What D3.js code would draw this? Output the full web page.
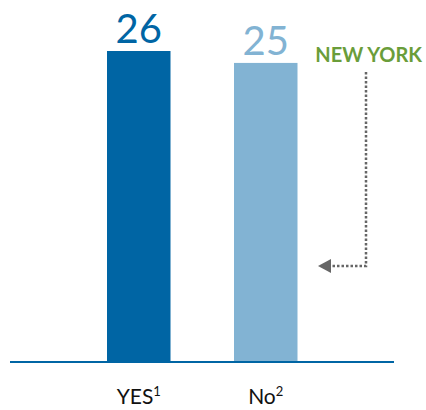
<!DOCTYPE html>
<html>
<head>
<meta charset="utf-8">
<script src="https://cdn.jsdelivr.net/npm/d3@7"></script>
<style>
  html, body { margin: 0; padding: 0; background: #fff; }
  svg { display: block; font-family: Lato, "Open Sans", sans-serif; }
</style>
</head>
<body>
<div id="chart"></div>
<script>
const categories = ["YES", "No"];
const notes = ["1", "2"];
const values = [26, 25];
const colors = ["#0065a4", "#82b3d3"];

const width = 426, height = 410;
const baseY = 361;

const svg = d3.select("#chart").append("svg")
  .attr("width", width)
  .attr("height", height);

const x = d3.scaleBand().domain(categories).range([43.5, 361]).paddingInner(0.5).paddingOuter(0.5);
const y = d3.scaleLinear().domain([0, d3.max(values)]).range([baseY, 51]);

// bars
svg.selectAll("rect.bar").data(values).enter().append("rect")
  .attr("class", "bar")
  .attr("x", (d, i) => x(categories[i]))
  .attr("y", d => y(d))
  .attr("width", x.bandwidth())
  .attr("height", d => baseY - y(d))
  .attr("fill", (d, i) => colors[i]);

// value labels
svg.selectAll("text.val").data(values).enter().append("text")
  .attr("class", "val")
  .attr("x", (d, i) => x(categories[i]) + x.bandwidth() / 2)
  .attr("y", d => y(d) - 8)
  .attr("text-anchor", "middle")
  .attr("font-size", 40)
  .attr("fill", (d, i) => colors[i])
  .text(d => d);

// baseline
svg.append("line")
  .attr("x1", 10).attr("x2", 394)
  .attr("y1", baseY + 1).attr("y2", baseY + 1)
  .attr("stroke", "#0065a4")
  .attr("stroke-width", 2);

// category labels
const cat = svg.selectAll("text.cat").data(categories).enter().append("text")
  .attr("class", "cat")
  .attr("x", d => x(d) + x.bandwidth() / 2)
  .attr("y", 404)
  .attr("text-anchor", "middle")
  .attr("font-size", 21)
  .attr("fill", "#111");
cat.append("tspan").text(d => d);
cat.append("tspan")
  .attr("font-size", 13)
  .attr("dy", -8)
  .text((d, i) => notes[i]);

// annotation
svg.append("text")
  .attr("x", 422)
  .attr("y", 62)
  .attr("text-anchor", "end")
  .attr("font-size", 20)
  .attr("font-weight", "bold")
  .attr("fill", "#6a9d3a")
  .text("NEW YORK");

svg.append("path")
  .attr("d", "M366,72 V266 H332")
  .attr("fill", "none")
  .attr("stroke", "#666")
  .attr("stroke-width", 2.5)
  .attr("stroke-dasharray", "2.5,2");

svg.append("path")
  .attr("d", "M318,266 L331,259 L331,273 Z")
  .attr("fill", "#666");
</script>
</body>
</html>
